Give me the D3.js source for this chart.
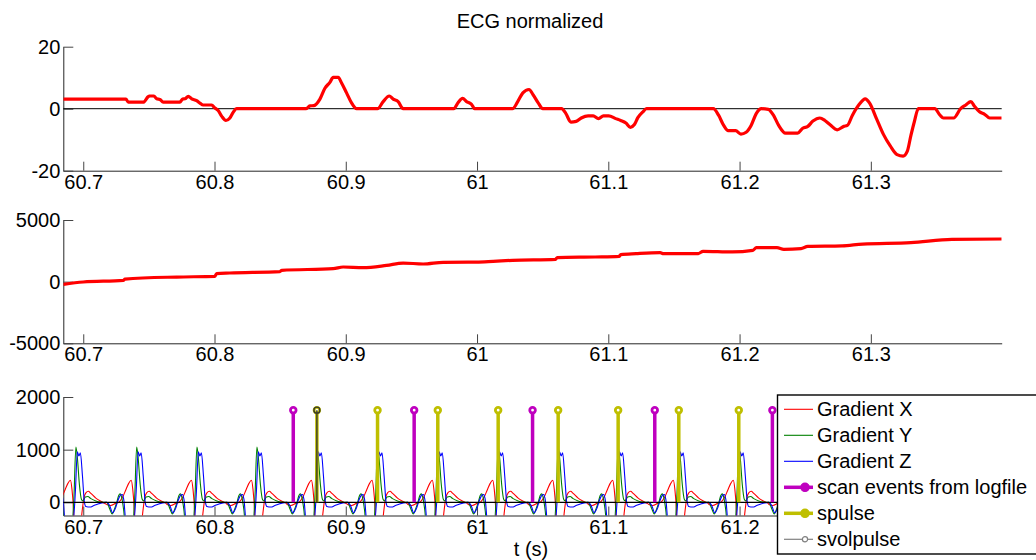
<!DOCTYPE html>
<html>
<head>
	<meta charset="utf-8">
	<title>ECG normalized</title>
	<script type="text/javascript" src="https://cdn.jsdelivr.net/npm/d3@7"></script>
	<style>
		body {
			margin: 0;
			background: #fff;
		}
		svg {
			display: block;
			font-family: "Liberation Sans", Arial, Helvetica, sans-serif;
		}
	</style>
</head>

<body>

	<div id="chart"></div>

	<script>

		// data

		const xTicks = [60.7, 60.8, 60.9, 61.0, 61.1, 61.2, 61.3];

		// top panel: normalized ECG
		const ecgT = [60.6848, 60.7325, 60.7343, 60.7457, 60.7495, 60.7503, 60.7538, 60.7559, 60.7584, 60.7609,
			60.7736, 60.7757, 60.7775, 60.7800, 60.7826, 60.7864, 60.7889, 60.7914, 60.7978, 60.8003,
			60.8028, 60.8054, 60.8087, 60.8117, 60.8142, 60.8168, 60.8696, 60.8727, 60.8757, 60.8803,
			60.8841, 60.8879, 60.8904, 60.8942, 60.8968, 60.9006, 60.9044, 60.9082, 60.9242, 60.9285,
			60.9331, 60.9361, 60.9399, 60.9437, 60.9823, 60.9856, 60.9890, 60.9920, 60.9958, 60.9983,
			61.0270, 61.0310, 61.0349, 61.0396, 61.0427, 61.0467, 61.0501, 61.0644, 61.0676, 61.0715,
			61.0755, 61.0794, 61.0846, 61.0885, 61.0925, 61.0963, 61.1003, 61.1056, 61.1094, 61.1134,
			61.1168, 61.1199, 61.1225, 61.1264, 61.1291, 61.1800, 61.1840, 61.1879, 61.1913, 61.1970,
			61.2010, 61.2050, 61.2088, 61.2128, 61.2167, 61.2219, 61.2258, 61.2298, 61.2350, 61.2442,
			61.2481, 61.2520, 61.2559, 61.2612, 61.2650, 61.2690, 61.2743, 61.2794, 61.2821, 61.2860,
			61.2912, 61.2957, 61.2991, 61.3043, 61.3095, 61.3148, 61.3200, 61.3246, 61.3278, 61.3305,
			61.3331, 61.3362, 61.3487, 61.3527, 61.3553, 61.3631, 61.3684, 61.3723, 61.3762, 61.3788,
			61.3828, 61.3867, 61.3906, 61.3997];
		const ecgV = [3.1, 3.1, 2.1, 2.1, 3.9, 4.1, 4.1, 3.2, 3.0, 2.1,
			2.1, 3.1, 3.2, 4.0, 3.2, 2.6, 1.8, 1.2, 1.2, 0.2,
			-0.6, -2.4, -3.8, -3.0, -1.2, 0, 0, 0.9, 1.0, 3.1,
			6.6, 8.5, 10.1, 10.1, 8.3, 5.1, 1.9, 0, 0, 2.3,
			4.1, 3.1, 2.3, 0, 0, 2.0, 3.3, 2.3, 1.4, 0,
			0, 2.3, 5.1, 6.2, 4.5, 1.8, 0, 0, -1.5, -4.3,
			-4.1, -3.0, -2.3, -2.3, -3.2, -2.3, -2.3, -3.2, -3.8, -4.6,
			-6.0, -5.1, -2.9, -1.0, 0, 0, -2.1, -5.4, -7.1, -7.1,
			-8.2, -7.6, -5.4, -1.5, 0, -0.2, -2.1, -5.4, -7.9, -7.9,
			-6.3, -5.7, -4.0, -3.0, -3.8, -5.2, -6.8, -5.7, -5.4, -2.1,
			1.4, 3.2, 1.8, -3.2, -8.2, -12.0, -14.8, -15.3, -13.7, -8.7,
			-4.3, 0, 0, -2.1, -3.0, -3.0, 0, 1.2, 2.3, 0.9,
			-1.0, -1.8, -3.0, -3.0];

		// middle panel: slowly rising trace
		const midT = [60.6848, 60.7000, 60.7305, 60.7318, 60.7711, 60.8003, 60.8016, 60.8117, 60.8498, 60.8513,
			60.8904, 60.8980, 60.9132, 60.9311, 60.9437, 60.9589, 60.9742, 60.9996, 61.0123, 61.0270,
			61.0598, 61.0611, 61.0899, 61.1082, 61.1095, 61.1212, 61.1395, 61.1421, 61.1683, 61.1722,
			61.1944, 61.2101, 61.2128, 61.2285, 61.2337, 61.2468, 61.2520, 61.2781, 61.2938, 61.3305,
			61.3618, 61.3997];
		const midV = [-220, -30, 100, 210, 375, 430, 650, 700, 810, 920,
			1050, 1190, 1130, 1320, 1510, 1430, 1570, 1590, 1650, 1730,
			1810, 1950, 2000, 2050, 2190, 2270, 2350, 2270, 2270, 2460,
			2410, 2540, 2760, 2760, 2620, 2680, 2860, 2900, 3050, 3160,
			3430, 3460];

		// bottom panel: gradient pulse times (green peaks) and one period of each gradient
		const gradPulseT = [60.6944, 60.7407, 60.7866, 60.8323, 60.8780, 60.9242, 60.9701,
			61.0161, 61.0618, 61.1075, 61.1537, 61.1994, 61.2451];

		const gxDt = [-22.8, -19.8, -16.0, -13.7, -10.7, -8.4, -6.1, -4.2, -3.0, -1.9,
			-1.1, 3.0, 4.6, 6.1, 7.6, 9.5, 11.4, 15.2, 19.0, 22.8];
		const gxV = [-40, -60, -20, 0, 100, 230, 360, 420, 250, -100,
			-500, -600, -200, 80, 180, 210, 170, 80, 20, -30];

		const gyDt = [-22.8, -20.6, -18.7, -16.8, -15.2, -13.7, -12.6, -11.4, -9.9, -8.8,
			-3.0, -1.5, 0, 1.1, 2.7, 4.2, 5.3, 7.2, 9.1, 11.4, 15.2, 19.0, 22.8];
		const gyV = [0, -120, -220, -120, 0, 130, 160, 90, -150, -400,
			-400, 100, 1050, 850, 330, 60, 30, 100, 110, 70, 25, 5, 0];

		const gzDt = [-22.8, -20.6, -18.3, -16.0, -14.5, -12.2, -11.0, -9.9, -8.0, -2.3,
			-0.4, 1.1, 2.3, 3.4, 5.0, 6.5, 7.6, 10.7, 13.7, 16.8, 19.8, 22.8];
		const gzV = [0, -60, -200, -100, 20, 140, 150, 60, -400, -400,
			200, 960, 880, 940, 500, 0, -80, -90, -60, -30, -10, 0];

		const scanEventsT = [60.8600, 60.9521, 61.0423, 61.1354, 61.2250];
		const spulseT = [60.8780, 60.9242, 60.9701, 61.0161, 61.0618, 61.1075, 61.1537, 61.1994];
		const svolpulseT = [60.8780];
		const stemHeight = 1750;

		const legendLabels = ["Gradient X", "Gradient Y", "Gradient Z", "scan events from logfile", "spulse", "svolpulse"];

		// layout

		const width = 1036;
		const height = 560;
		const fontSize = 20;
		const axisColor = "#262626";
		const red = "#ff0000", green = "#008000", blue = "#0000ff";
		const magenta = "#bf00bf", olive = "#bfbf00";
		const legendLeft = 777.5;

		const svg = d3.select("#chart")
			.append("svg")
			.attr("width", width)
			.attr("height", height);

		const x = d3.scaleLinear().domain([60.6848, 61.3997]).range([63.3, 1001.7]);
		const [xl, xr] = x.range();

		const yTop = d3.scaleLinear().domain([-20, 20]).range([170.7, 46.7]);
		const yMid = d3.scaleLinear().domain([-5000, 5000]).range([343.3, 220]);
		const yBot = d3.scaleLinear().domain([-250, 2000]).range([515.5, 397]);

		function drawAxes(y, yTicks, xTickValues) {
			const axisY = y.range()[0];
			const gx = svg.append("g")
				.attr("transform", `translate(0,${axisY})`)
				.call(d3.axisBottom(x).tickValues(xTickValues).tickFormat(d => String(+d.toFixed(1)))
					.tickSizeInner(-9).tickSizeOuter(0).tickPadding(4));
			const gy = svg.append("g")
				.attr("transform", `translate(${xl},0)`)
				.call(d3.axisLeft(y).tickValues(yTicks).tickFormat(d => String(d))
					.tickSizeInner(-10).tickSizeOuter(0).tickPadding(3));
			[gx, gy].forEach(g => {
				g.attr("font-size", fontSize).attr("font-family", null);
				g.select(".domain").attr("stroke", axisColor);
				g.selectAll(".tick line").attr("stroke", "#444");
				g.selectAll(".tick text").attr("fill", "#000");
			});
		}

		function clip(id, y0, y1) {
			svg.append("clipPath").attr("id", id)
				.append("rect").attr("x", xl).attr("y", y0).attr("width", xr - xl).attr("height", y1 - y0);
			return `url(#${id})`;
		}

		// title
		svg.append("text")
			.attr("x", 530).attr("y", 28)
			.attr("text-anchor", "middle")
			.attr("font-size", fontSize)
			.text("ECG normalized");

		// top panel
		drawAxes(yTop, [-20, 0, 20], xTicks);
		svg.append("line")
			.attr("x1", xl).attr("x2", xr)
			.attr("y1", yTop(0)).attr("y2", yTop(0))
			.attr("stroke", "#000").attr("stroke-width", 1);
		svg.append("path")
			.datum(d3.zip(ecgT, ecgV))
			.attr("clip-path", clip("clipTop", 40, yTop.range()[0]))
			.attr("fill", "none")
			.attr("stroke", red)
			.attr("stroke-width", 3.2)
			.attr("stroke-linejoin", "round")
			.attr("d", d3.line().curve(d3.curveMonotoneX).x(d => x(d[0])).y(d => yTop(d[1])));

		// middle panel
		drawAxes(yMid, [-5000, 0, 5000], xTicks);
		svg.append("path")
			.datum(d3.zip(midT, midV))
			.attr("clip-path", clip("clipMid", 215, yMid.range()[0]))
			.attr("fill", "none")
			.attr("stroke", red)
			.attr("stroke-width", 3.2)
			.attr("stroke-linejoin", "round")
			.attr("d", d3.line().curve(d3.curveMonotoneX).x(d => x(d[0])).y(d => yMid(d[1])));

		// bottom panel (tick labels under the legend box are hidden in the original)
		drawAxes(yBot, [0, 1000, 2000], xTicks.filter(t => x(t) < legendLeft));
		const clipBot = clip("clipBot", 390, yBot.range()[0]);

		function gradientSeries(dtMs, vals) {
			const pts = [];
			gradPulseT.forEach(tp => dtMs.forEach((d, i) => pts.push([tp + d / 1000, vals[i]])));
			return pts;
		}

		const gradLine = d3.line().curve(d3.curveMonotoneX).x(d => x(d[0])).y(d => yBot(d[1]));
		[[gxDt, gxV, red], [gyDt, gyV, green], [gzDt, gzV, blue]].forEach(([dt, v, c]) => {
			svg.append("path")
				.datum(gradientSeries(dt, v))
				.attr("clip-path", clipBot)
				.attr("fill", "none")
				.attr("stroke", c)
				.attr("stroke-width", 1.1)
				.attr("d", gradLine);
		});

		// stem baseline
		svg.append("line")
			.attr("x1", xl).attr("x2", xr)
			.attr("y1", yBot(0)).attr("y2", yBot(0))
			.attr("stroke", "#000").attr("stroke-width", 1.2);

		function stems(times, color, w, r, sw, fill) {
			const g = svg.append("g").attr("clip-path", clipBot);
			g.selectAll("line").data(times).join("line")
				.attr("x1", d => x(d)).attr("x2", d => x(d))
				.attr("y1", yBot(0)).attr("y2", yBot(stemHeight))
				.attr("stroke", color).attr("stroke-width", w);
			g.selectAll("circle").data(times).join("circle")
				.attr("cx", d => x(d)).attr("cy", yBot(stemHeight))
				.attr("r", r)
				.attr("fill", fill).attr("stroke", color).attr("stroke-width", sw);
		}
		stems(scanEventsT, magenta, 3.5, 2.8, 2.8, "#fff");
		stems(spulseT, olive, 3.5, 2.8, 2.8, "#fff");
		stems(svolpulseT, "#3a3a2a", 1.4, 3, 1.4, "none");

		// legend
		const lg = svg.append("g");
		lg.append("rect")
			.attr("x", legendLeft).attr("y", 395)
			.attr("width", 300).attr("height", 159)
			.attr("fill", "#fff").attr("stroke", "#000").attr("stroke-width", 1.4);

		const legendStyle = [
			{ color: red, w: 1.1 },
			{ color: green, w: 1.1 },
			{ color: blue, w: 1.1 },
			{ color: magenta, w: 3.5, marker: { r: 4.2, fill: magenta } },
			{ color: olive, w: 3.5, marker: { r: 4.2, fill: olive } },
			{ color: "#808080", w: 1.2, marker: { r: 2.6, fill: "#fff" } },
		];

		const entry = lg.selectAll("g.entry")
			.data(legendLabels)
			.join("g")
			.attr("class", "entry")
			.attr("transform", (d, i) => `translate(0,${409.3 + i * 26})`);

		entry.append("line")
			.attr("x1", 784).attr("x2", 813)
			.attr("stroke", (d, i) => legendStyle[i].color)
			.attr("stroke-width", (d, i) => legendStyle[i].w);

		entry.filter((d, i) => legendStyle[i].marker)
			.append("circle")
			.attr("cx", 805)
			.attr("r", d => legendStyle[legendLabels.indexOf(d)].marker.r)
			.attr("fill", d => legendStyle[legendLabels.indexOf(d)].marker.fill)
			.attr("stroke", d => legendStyle[legendLabels.indexOf(d)].color)
			.attr("stroke-width", 1.2);

		entry.append("text")
			.attr("x", 817)
			.attr("y", 7)
			.attr("font-size", fontSize)
			.text(d => d);

		// x label
		svg.append("text")
			.attr("x", 531).attr("y", 556)
			.attr("text-anchor", "middle")
			.attr("font-size", fontSize)
			.text("t (s)");

	</script>

</body>

</html>
